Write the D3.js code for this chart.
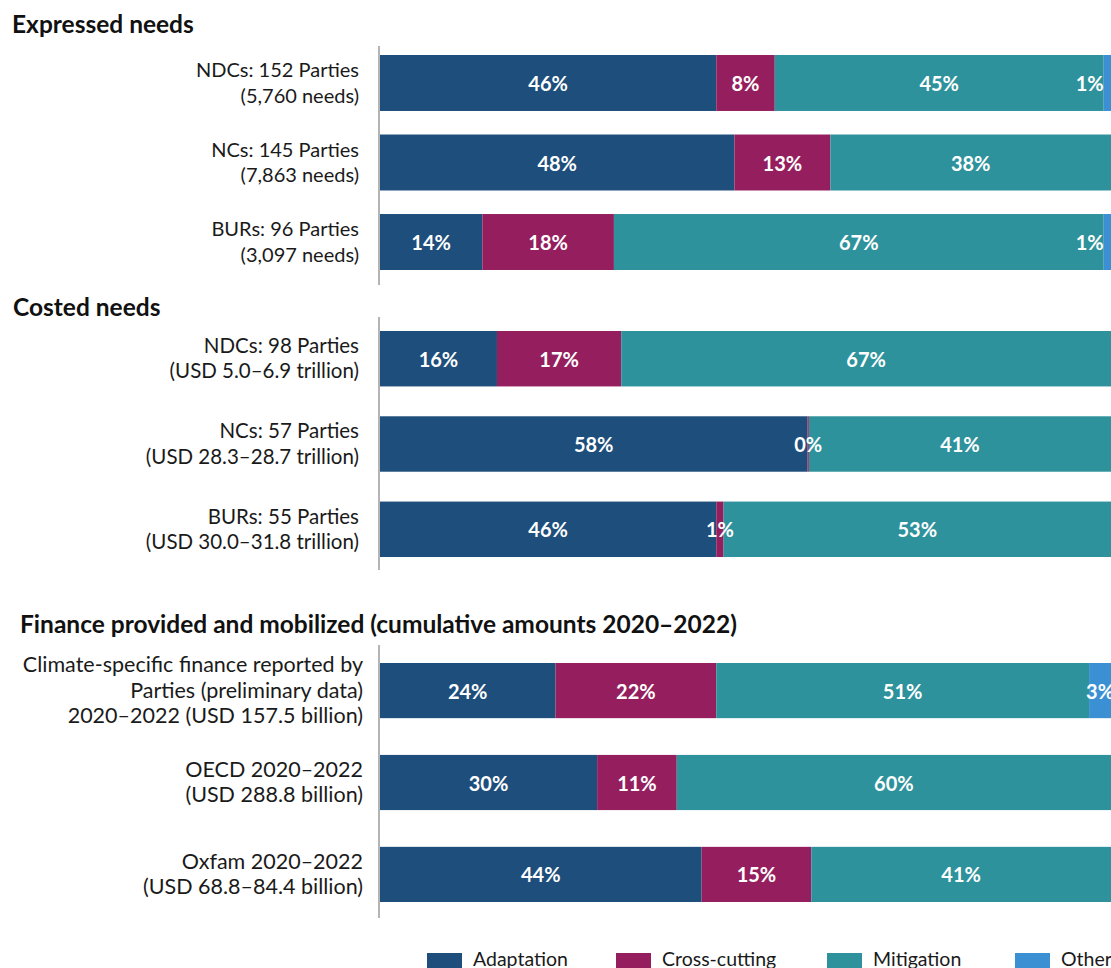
<!DOCTYPE html>
<html>
<head>
<meta charset="utf-8">
<script src="https://cdn.jsdelivr.net/npm/d3@7"></script>
<style>
  html, body { margin: 0; padding: 0; background: #fff; }
  svg { display: block; }
  text { font-family: Lato, "Open Sans", sans-serif; }
</style>
</head>
<body>
<svg id="chart" width="1111" height="968"></svg>
<script>
// ---------- DATA ----------
const seriesKeys = ["Adaptation", "Cross-cutting", "Mitigation", "Other"];
const seriesColors = ["#1e4e7b", "#951f5e", "#2e929c", "#3a90d3"];

const sectionTitles = [
  "Expressed needs",
  "Costed needs",
  "Finance provided and mobilized (cumulative amounts 2020\u20132022)"
];

const expressedLabels = [
  ["NDCs: 152 Parties", "(5,760 needs)"],
  ["NCs: 145 Parties", "(7,863 needs)"],
  ["BURs: 96 Parties", "(3,097 needs)"]
];
// [Adaptation, Cross-cutting, Mitigation, Other] in %
const expressedValues = [
  [46, 8, 45, 1],
  [48, 13, 38, 0],
  [14, 18, 67, 1]
];

const costedLabels = [
  ["NDCs: 98 Parties", "(USD 5.0\u20136.9 trillion)"],
  ["NCs: 57 Parties", "(USD 28.3\u201328.7 trillion)"],
  ["BURs: 55 Parties", "(USD 30.0\u201331.8 trillion)"]
];
const costedValues = [
  [16, 17, 67, 0],
  [58, 0.2, 41, 0],
  [46, 1, 53, 0]
];

const financeLabels = [
  ["Climate-specific finance reported by", "Parties (preliminary data)", "2020\u20132022 (USD 157.5 billion)"],
  ["OECD 2020\u20132022", "(USD 288.8 billion)"],
  ["Oxfam 2020\u20132022", "(USD 68.8\u201384.4 billion)"]
];
const financeValues = [
  [24, 22, 51, 3],
  [30, 11, 60, 0],
  [44, 15, 41, 0]
];

// ---------- LAYOUT ----------
const svg = d3.select("#chart");
const W = 1111;
const x = d3.scaleLinear().domain([0, 1]).range([380, W]);
const color = d3.scaleOrdinal().domain(seriesKeys).range(seriesColors);

const sections = [
  { title: sectionTitles[0], labels: expressedLabels, values: expressedValues,
    titleX: 12, titleY: 33, axis: [46, 285], bars: [55, 270], pad: 0.296, labelX: 359, labelSize: 20 },
  { title: sectionTitles[1], labels: costedLabels, values: costedValues,
    titleX: 13, titleY: 316, axis: [317, 570], bars: [331, 557], pad: 0.35, labelX: 359, labelSize: 20.5 },
  { title: sectionTitles[2], labels: financeLabels, values: financeValues,
    titleX: 20, titleY: 633, axis: [645, 918], bars: [663, 902], pad: 0.4, labelX: 363, labelSize: 21.5 }
];

const stack = d3.stack()
  .keys(d3.range(seriesKeys.length))
  .value((d, k) => d[k])
  .offset(d3.stackOffsetExpand);

sections.forEach(sec => {
  const g = svg.append("g");
  const idx = d3.range(sec.values.length);
  const y = d3.scaleBand().domain(idx).range(sec.bars).paddingInner(sec.pad).paddingOuter(0);

  g.append("text")
    .attr("x", sec.titleX).attr("y", sec.titleY)
    .attr("font-size", 24.5).attr("font-weight", 700).attr("fill", "#111")
    .text(sec.title);

  const layers = stack(sec.values);

  layers.forEach((layer, k) => {
    const key = seriesKeys[k];
    g.selectAll(null).data(layer.map((s, i) => ({ s, i, v: sec.values[i][k] })))
      .join("rect")
      .filter(d => d.v > 0)
      .attr("x", d => x(d.s[0]))
      .attr("y", d => y(d.i))
      .attr("width", d => Math.max(1, x(d.s[1]) - x(d.s[0])))
      .attr("height", y.bandwidth())
      .attr("fill", color(key));
  });

  // segment labels
  layers.forEach((layer, k) => {
    const key = seriesKeys[k];
    layer.forEach((s, i) => {
      const v = sec.values[i][k];
      if (!(v > 0)) return;
      const x0 = x(s[0]), x1 = x(s[1]);
      let tx = (x0 + x1) / 2, anchor = "middle";
      if (key === "Other" && (x1 - x0) < 12) { tx = x0; anchor = "end"; }
      g.append("text")
        .attr("x", tx)
        .attr("y", y(i) + y.bandwidth() / 2 + 1)
        .attr("dy", "0.35em")
        .attr("text-anchor", anchor)
        .attr("font-size", 20).attr("font-weight", 700).attr("fill", "#fff")
        .text(Math.round(v) + "%");
    });
  });

  // category labels
  idx.forEach(i => {
    const lines = sec.labels[i];
    const lh = 25.5;
    const cy = y(i) + y.bandwidth() / 2;
    const firstBase = cy - (lines.length - 1) * lh / 2 + 7;
    const t = g.append("text")
      .attr("text-anchor", "end")
      .attr("font-size", sec.labelSize).attr("fill", "#1a1a1a");
    lines.forEach((ln, j) => {
      t.append("tspan").attr("x", sec.labelX).attr("y", firstBase + j * lh).text(ln);
    });
  });

  // axis line
  g.append("line")
    .attr("x1", 379).attr("x2", 379)
    .attr("y1", sec.axis[0]).attr("y2", sec.axis[1])
    .attr("stroke", "#b4b4b4").attr("stroke-width", 2);
});

// ---------- LEGEND ----------
const legendX = [427, 616, 827, 1015];
const legend = svg.append("g");
seriesKeys.forEach((k, i) => {
  legend.append("rect")
    .attr("x", legendX[i]).attr("y", 953)
    .attr("width", 35).attr("height", 17)
    .attr("fill", color(k));
  legend.append("text")
    .attr("x", legendX[i] + 46).attr("y", 966)
    .attr("font-size", 19.5).attr("fill", "#1a1a1a")
    .text(k);
});
</script>
</body>
</html>
